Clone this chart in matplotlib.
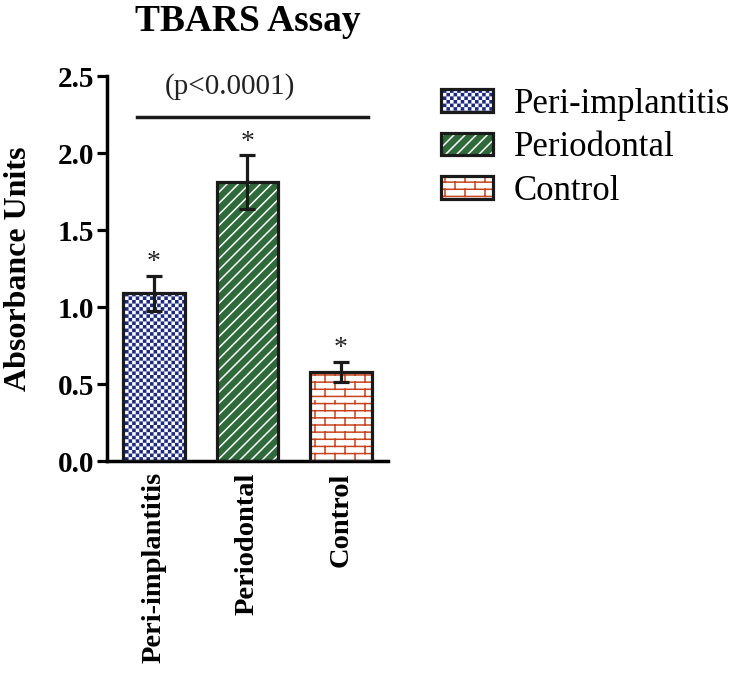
import warnings
import numpy as np
import matplotlib
matplotlib.use('Agg')
import matplotlib.pyplot as plt
from matplotlib import hatch as mhatch
from matplotlib.path import Path
from matplotlib.patches import Patch
from matplotlib.legend_handler import HandlerTuple

warnings.filterwarnings('ignore')

# ---------------- datos ---------------- #
grupos = ['Peri-implantitis', 'Periodontal', 'Control']
medias = [1.09, 1.81, 0.58]
errores = [0.115, 0.175, 0.065]
p_texto = '(p<0.0001)'

fondos = ['white', '#2f6a3a', 'white']
hatch_col = ['#1c2a80', 'white', '#c8441c']
patrones = ['c', '///', 'k']


# ---------------- patrones propios (damero y ladrillo) ---------------- #
class PatronPropio(mhatch.HatchPatternBase):
    def __init__(self, hatch, density):
        self.checker = 'c' in hatch
        self.brick = 'k' in hatch
        self.n = 28
        self.filas, self.cols = 14, 5
        self.num_vertices = 0
        if self.checker:
            self.num_vertices += (self.n * self.n // 2) * 5
        if self.brick:
            self.num_vertices += self.filas * 2 + self.filas * self.cols * 2

    def set_vertices_and_codes(self, vertices, codes):
        k = 0
        if self.checker:
            celda = 1.0 / self.n
            lw = plt.rcParams['hatch.linewidth'] / 72.0
            lado = max(celda - lw, 0.002)
            m = (celda - lado) / 2
            for i in range(self.n):
                for j in range(self.n):
                    if (i + j) % 2:
                        continue
                    x0, y0 = j * celda + m, i * celda + m
                    vertices[k:k + 5] = [[x0, y0], [x0 + lado, y0], [x0 + lado, y0 + lado],
                                         [x0, y0 + lado], [x0, y0]]
                    codes[k:k + 5] = [Path.MOVETO, Path.LINETO, Path.LINETO, Path.LINETO, Path.CLOSEPOLY]
                    k += 5
        if self.brick:
            h = 1.0 / self.filas
            for i in range(self.filas):
                y = (i + 0.5) * h
                vertices[k:k + 2] = [[0, y], [1, y]]
                codes[k:k + 2] = [Path.MOVETO, Path.LINETO]
                k += 2
            for i in range(self.filas):
                y0, y1 = (i + 0.5) * h, (i + 1.5) * h
                for j in range(self.cols):
                    x = (j + 0.25 + 0.5 * (i % 2)) / self.cols
                    vertices[k:k + 2] = [[x, y0], [x, y1]]
                    codes[k:k + 2] = [Path.MOVETO, Path.LINETO]
                    k += 2


mhatch._hatch_types.append(PatronPropio)

plt.rcParams['hatch.linewidth'] = 1.1
plt.rcParams['font.family'] = 'Liberation Serif'

# ---------------- figura ---------------- #
fig = plt.figure(figsize=(7.43, 6.74), dpi=100)
ax = fig.add_axes([0.144, 0.316, 0.378, 0.571])

x = np.arange(len(grupos))
ancho = 0.66
for i in range(len(grupos)):
    ax.bar(x[i], medias[i], width=ancho, color=fondos[i], edgecolor=hatch_col[i],
           hatch=patrones[i], linewidth=0, zorder=2)
    ax.bar(x[i], medias[i], width=ancho, fill=False, edgecolor='#1a1a1a', linewidth=2.3, zorder=3)

ax.errorbar(x, medias, yerr=errores, fmt='none', ecolor='#1a1a1a', elinewidth=2.3,
            capsize=6, capthick=2.3, zorder=4)

for i in range(len(grupos)):
    ax.text(x[i], medias[i] + errores[i] + 0.005, '*', ha='center', va='bottom',
            fontsize=20, color='#222222')

# linea de significancia
ax.plot([-0.18, 2.29], [2.235, 2.235], color='#1a1a1a', lw=2.5, clip_on=False)
ax.text(0.81, 2.43, p_texto, ha='center', va='center', fontsize=21, color='#222222')

ax.set_xlim(-0.5, 2.5)
ax.set_ylim(0, 2.5)
ax.set_yticks([0.0, 0.5, 1.0, 1.5, 2.0, 2.5])
ax.set_yticklabels(['0.0', '0.5', '1.0', '1.5', '2.0', '2.5'], fontsize=21, fontweight='bold')
ax.set_xticks(x)
ax.set_xticklabels(grupos, rotation=90, fontsize=20.5, fontweight='bold')
ax.tick_params(axis='x', length=0, pad=8)
ax.tick_params(axis='y', length=7, width=2.3, pad=2)
ax.spines['top'].set_visible(False)
ax.spines['right'].set_visible(False)
ax.spines['left'].set_linewidth(2.5)
ax.spines['bottom'].set_linewidth(2.5)
ax.set_ylabel('Absorbance Units', fontsize=23, fontweight='bold', labelpad=18)

fig.text(0.334, 0.968, 'TBARS Assay', ha='center', va='center', fontsize=27, fontweight='bold')

# leyenda
handles = []
for i in range(len(grupos)):
    relleno = Patch(facecolor=fondos[i], edgecolor=hatch_col[i], hatch=patrones[i], linewidth=0)
    borde = Patch(fill=False, edgecolor='#1a1a1a', linewidth=2.3)
    handles.append((relleno, borde))
fig.legend(handles, grupos, loc='upper left', bbox_to_anchor=(0.551, 0.916),
           frameon=False, fontsize=25, handlelength=1.5, handleheight=0.63,
           handletextpad=0.6, labelspacing=0.3,
           handler_map={tuple: HandlerTuple(ndivide=1)})

plt.savefig('out.png', dpi=100)
